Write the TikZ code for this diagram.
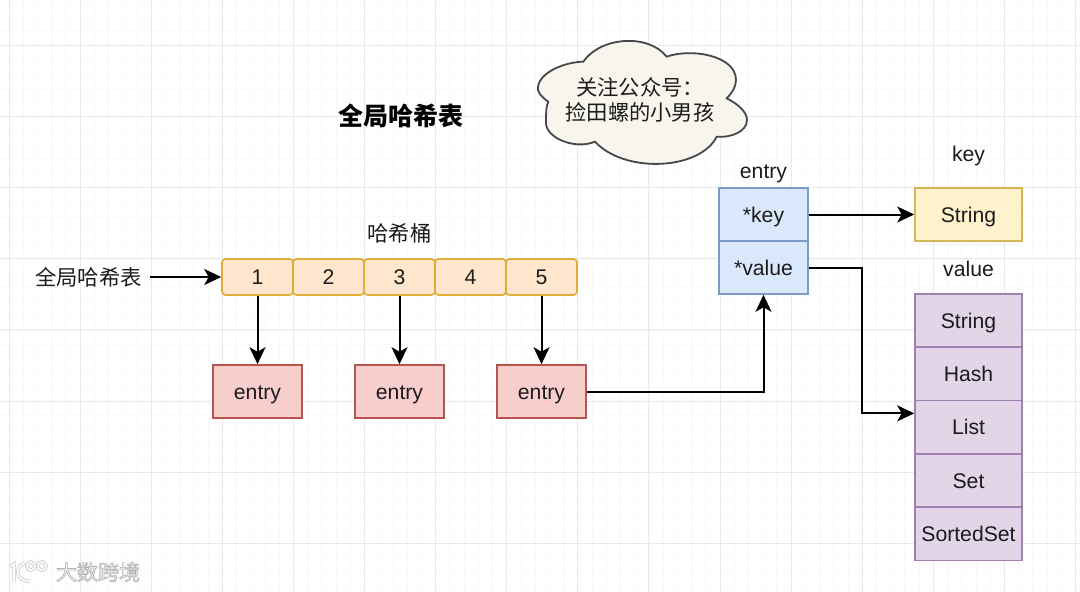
\documentclass[tikz,border=0pt]{standalone}
\usepackage{fontspec}
\setmainfont{Liberation Sans}
\newfontfamily\cjk{Noto Sans CJK SC}
\usetikzlibrary{arrows.meta, positioning, calc}
\definecolor{gridmajor}{HTML}{EAE8EA}
\definecolor{gridminor}{HTML}{FAF9FA}
\definecolor{inktext}{HTML}{1C1C1C}
\newcommand{\haloed}[1]{\special{pdf:literal direct 2 Tr 0.7 w 0.7 G 1 g}#1\special{pdf:literal direct 0 Tr}}
\begin{document}
\begin{tikzpicture}[
  x=1pt, y=-1pt,
  cell/.style={draw, line width=1.6pt, minimum width=#1, minimum height=53pt,
               inner sep=0pt, font=\fontsize{21.2}{24}\selectfont, text=inktext,
               text height=15.5pt, text depth=0pt},
  bucket/.style={draw=bucketline, fill=bucketfill, line width=1.6pt, rounded corners=3.5pt,
                 minimum width=71pt, minimum height=36pt, inner sep=0pt,
                 font=\fontsize{21.2}{24}\selectfont, text=inktext,
                 text height=15.5pt, text depth=0pt},
  entrybox/.style={cell=89pt, draw=entryline, fill=entryfill},
  fieldbox/.style={cell=89pt, draw=fieldline, fill=fieldfill},
  keybox/.style={cell=107pt, draw=keyline, fill=keyfill},
  typebox/.style={cell=107pt, draw=typeline, fill=typefill},
  lbl/.style={font=\fontsize{21.2}{24}\selectfont, text=inktext, inner sep=4pt,
              text height=15.5pt, text depth=0pt},
  cnlbl/.style={font=\cjk\fontsize{21.3}{25}\selectfont, text=inktext, align=center, inner sep=4pt},
  arr/.style={-{Stealth[length=17pt,width=16pt,inset=4.5pt]}, line width=2pt, black},
  gridmaj/.style={draw=gridmajor, line width=1pt},
  gridmin/.style={draw=gridminor, line width=0.8pt}
]
\definecolor{bucketfill}{HTML}{FFE6CC}
\definecolor{bucketline}{HTML}{DFAC35}
\definecolor{entryfill}{HTML}{F8CECC}
\definecolor{entryline}{HTML}{B85450}
\definecolor{fieldfill}{HTML}{DAE8FC}
\definecolor{fieldline}{HTML}{7C9BC7}
\definecolor{keyfill}{HTML}{FFF2CC}
\definecolor{keyline}{HTML}{D6B656}
\definecolor{typefill}{HTML}{E1D5E7}
\definecolor{typeline}{HTML}{9F80AE}
\definecolor{cloudfill}{HTML}{F8F6EC}
\definecolor{cloudline}{HTML}{45474A}
\useasboundingbox (0,0) rectangle (1080,592);
\fill[white] (0,0) rectangle (1080,592);
% background grid
\foreach \i in {0,...,76} {\draw[gridmin] ({9+14.22*(\i-1)},0) -- ++(0,592);}
\foreach \i in {0,...,42} {\draw[gridmin] (0,{3+14.22*(\i-1)}) -- ++(1080,0);}
\foreach \i in {0,...,15} {\draw[gridmaj] ({9+71.1*\i},0) -- ++(0,592);}
\foreach \i in {0,...,7} {\draw[gridmaj] (0,{45.5+71.1*\i}) -- ++(1080,0);}
% title and cloud
\node[font=\cjk\bfseries\fontsize{25}{30}\selectfont, text=black] (title) at (400.5,116) {全局哈希表};
\draw[draw=cloudline, fill=cloudfill, line width=1.8pt]
  (583.3,61.7) .. controls (600,37) and (648,33) .. (666.7,56.7)
  .. controls (690,48) and (736,55) .. (736,80)
  .. controls (736,87) and (732,93) .. (726.7,98.3)
  .. controls (738,104) and (747,112) .. (747,120)
  .. controls (747,132) and (730,138) .. (716.7,136.7)
  .. controls (700,170) and (625,174) .. (595,141.7)
  .. controls (575,150) and (546,138) .. (546,123)
  .. controls (546,114) and (546,106) .. (548.3,101.7)
  .. controls (540,96) and (537,91) .. (538,86.7)
  .. controls (540,72) and (565,62) .. (583.3,61.7) -- cycle;
\node[cnlbl] (cloudtext) at (640,99.5) {关注公众号：\\捡田螺的小男孩};
% buckets
\node[cnlbl] (bucketname) at (399.5,233) {哈希桶};
\node[bucket] (b1) at (257.5,277) {1};
\node[bucket] (b2) at (328.5,277) {2};
\node[bucket] (b3) at (399.5,277) {3};
\node[bucket] (b4) at (470.5,277) {4};
\node[bucket] (b5) at (541.5,277) {5};
\node[cnlbl, anchor=east, inner xsep=8pt] (table) at (150,277) {全局哈希表};
\draw[arr] (table) -- (b1);
% entries
\node[entrybox] (e1) at (257.5,391.5) {entry};
\node[entrybox] (e2) at (399.5,391.5) {entry};
\node[entrybox] (e3) at (541.5,391.5) {entry};
\draw[arr] (b1) -- (e1);
\draw[arr] (b3) -- (e2);
\draw[arr] (b5) -- (e3);
% entry fields
\node[lbl] (entryname) at (763.5,170.5) {entry};
\node[fieldbox] (fkey) at (763.5,214.5) {*key};
\node[fieldbox] (fval) at (763.5,267.5) {*value};
\draw[arr] (e3) -| (fval);
% key side
\node[lbl] (keyname) at (968.5,153.5) {key};
\node[keybox] (kstr) at (968.5,214.5) {String};
\draw[arr] (fkey) -- (kstr);
% value side
\node[lbl] (valname) at (968.5,269) {value};
\node[typebox] (vstr) at (968.5,320.5) {String};
\node[typebox] (vhash) at (968.5,374) {Hash};
\node[typebox] (vlist) at (968.5,427) {List};
\node[typebox] (vset) at (968.5,480.5) {Set};
\node[typebox] (vsort) at (968.5,534) {SortedSet};
\coordinate (turn) at (862,340);
\coordinate (listin) at ($(vlist.north west)!0.25!(vlist.south west)$);
\draw[arr] (fval) -| (turn) |- (listin);
% watermark
\draw[black!20, line width=3.4pt]
  (10,567) -- (14,564) -- (14,582) (25,563) .. controls (15,566) and (14,582) .. (31,581)
  (31,566) circle (4) (42,566) circle (4);
\draw[white, line width=1.6pt]
  (10,567) -- (14,564) -- (14,582) (25,563) .. controls (15,566) and (14,582) .. (31,581)
  (31,566) circle (4) (42,566) circle (4);
\node[font=\cjk\fontsize{21}{25}\selectfont, text=white, inner sep=0pt] (mark) at (98,572) {\haloed{大数跨境}};
\end{tikzpicture}
\end{document}
